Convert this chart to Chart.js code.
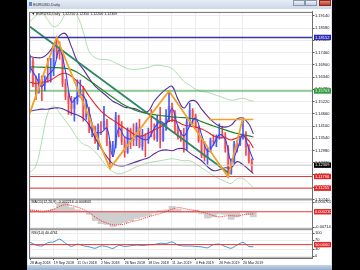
<!DOCTYPE html>
<html>
<head>
<meta charset="utf-8">
<title>EURUSD,Daily</title>
<script src="https://cdn.jsdelivr.net/npm/chart.js@4.4.1/dist/chart.umd.min.js"></script>
<style>
  html, body { margin:0; padding:0; width:360px; height:270px; overflow:hidden; background:#000; }
  #win { position:absolute; left:27px; top:0; width:305px; height:270px; background:#dde6f0; font-family:'Liberation Sans', Arial, sans-serif; }
  #head { position:absolute; left:0; top:0; width:305px; height:9px; background:linear-gradient(#e6edf6, #cbd8e8); }
  #head .ico { position:absolute; left:1.5px; top:2px; width:3px; height:4px; background:#5d86c2; }
  #head .ttl { position:absolute; left:6px; top:1.5px; font-size:8px; line-height:10px; color:#2b2b2b; white-space:nowrap; transform:scale(0.5); transform-origin:0 0; }
  #head .b { position:absolute; top:0; width:12px; height:6px; box-sizing:border-box; border:0.5px solid #8797ad; background:linear-gradient(#eef2f7, #c3cfdf); }
  #head .x { background:linear-gradient(#e08a7c, #c23b28); border-color:#8c2c20; }
  #cv { position:absolute; left:1px; top:9px; background:#fff; }
  #foot { position:absolute; left:0; top:265px; width:305px; height:5px; background:linear-gradient(#c6d5e6, #93b0d2); }
</style>
</head>
<body>
<div id="win">
  <div id="head">
    <div class="ico"></div><div class="ttl">EURUSD,Daily</div>
    <div class="b" style="left:266px"></div><div class="b" style="left:278px"></div><div class="b x" style="left:292px"></div>
  </div>
  <canvas id="cv" width="303" height="256"></canvas>
  <div id="foot"></div>
</div>
<script>
/* EURUSD Daily, MT4 style: price + MACD + RSI panes */
'use strict';

// time axis (bar 0 = 28 Aug 2018)
const dateTickBars = [0, 16, 32, 48, 64, 80, 96, 112, 128, 144];
const dateTicks = ['28 Aug 2018', '19 Sep 2018', '11 Oct 2018', '2 Nov 2018', '26 Nov 2018',
                   '18 Dec 2018', '11 Jan 2019', '4 Feb 2019', '26 Feb 2019', '20 Mar 2019'];

// price axis
const priceTicks = [1.19140, 1.18580, 1.18020, 1.17460, 1.16900, 1.16340, 1.15780, 1.15220,
                    1.14660, 1.14100, 1.13540, 1.12980, 1.12420, 1.11860, 1.11300, 1.10740];

// candles, one per two sessions
const cOpen = [1.1690,1.1707,1.1600,1.1584,1.1625,1.1596,1.1625,1.1624,1.1670,1.1778,
  1.1748,1.1738,1.1604,1.1545,1.1512,1.1489,1.1524,1.1559,1.1576,1.1452,
  1.1465,1.1388,1.1401,1.1343,1.1410,1.1407,1.1431,1.1335,1.1292,1.1324,
  1.1456,1.1408,1.1339,1.1290,1.1392,1.1350,1.1345,1.1405,1.1317,1.1366,
  1.1346,1.1380,1.1371,1.1354,1.1443,1.1345,1.1395,1.1444,1.1500,1.1470,
  1.1396,1.1364,1.1363,1.1305,1.1429,1.1480,1.1456,1.1406,1.1342,1.1274,
  1.1265,1.1294,1.1343,1.1337,1.1358,1.1371,1.1364,1.1307,1.1193,1.1246,
  1.1327,1.1325,1.1350,1.1375,1.1313,1.1249];
const cHigh = [1.1734,1.1720,1.1640,1.1650,1.1640,1.1640,1.1720,1.1720,1.1787,1.1815,
  1.1795,1.1755,1.1625,1.1565,1.1546,1.1540,1.1621,1.1620,1.1590,1.1530,
  1.1495,1.1420,1.1410,1.1420,1.1430,1.1500,1.1440,1.1340,1.1340,1.1472,
  1.1460,1.1430,1.1360,1.1402,1.1400,1.1420,1.1424,1.1440,1.1395,1.1375,
  1.1400,1.1485,1.1420,1.1460,1.1495,1.1410,1.1485,1.1570,1.1515,1.1480,
  1.1410,1.1390,1.1400,1.1440,1.1514,1.1490,1.1465,1.1410,1.1350,1.1340,
  1.1310,1.1355,1.1370,1.1370,1.1420,1.1410,1.1380,1.1320,1.1260,1.1340,
  1.1345,1.1362,1.1448,1.1385,1.1325,1.1260];
const cLow = [1.1655,1.1590,1.1530,1.1560,1.1526,1.1570,1.1610,1.1610,1.1640,1.1720,
  1.1715,1.1590,1.1530,1.1463,1.1460,1.1432,1.1510,1.1540,1.1432,1.1440,
  1.1380,1.1360,1.1330,1.1302,1.1370,1.1395,1.1320,1.1216,1.1270,1.1310,
  1.1360,1.1325,1.1267,1.1285,1.1306,1.1320,1.1320,1.1310,1.1300,1.1270,
  1.1330,1.1360,1.1345,1.1340,1.1310,1.1340,1.1390,1.1430,1.1430,1.1380,
  1.1350,1.1340,1.1290,1.1300,1.1410,1.1420,1.1395,1.1335,1.1265,1.1250,
  1.1234,1.1290,1.1320,1.1315,1.1350,1.1355,1.1290,1.1176,1.1190,1.1240,
  1.1290,1.1320,1.1350,1.1275,1.1240,1.1200];
const cClose = [1.1707,1.1600,1.1584,1.1625,1.1596,1.1625,1.1624,1.1670,1.1778,1.1748,
  1.1738,1.1604,1.1545,1.1512,1.1489,1.1524,1.1559,1.1576,1.1452,1.1465,
  1.1388,1.1401,1.1343,1.1410,1.1407,1.1431,1.1335,1.1292,1.1324,1.1456,
  1.1408,1.1339,1.1290,1.1392,1.1350,1.1345,1.1405,1.1317,1.1366,1.1346,
  1.1380,1.1371,1.1354,1.1443,1.1345,1.1395,1.1444,1.1500,1.1470,1.1396,
  1.1364,1.1363,1.1305,1.1429,1.1480,1.1456,1.1406,1.1342,1.1274,1.1265,
  1.1294,1.1343,1.1337,1.1358,1.1371,1.1364,1.1307,1.1193,1.1246,1.1327,
  1.1325,1.1350,1.1375,1.1313,1.1249,1.1231];

// indicator samples
const indBars = [0,4,8,12,16,20,24,28,32,36,40,44,48,52,56,60,64,68,72,76,
  80,84,88,92,96,100,104,108,112,116,120,124,128,132,136,140,144,148,151];
const blueMA = [1.1680,1.1635,1.1590,1.1640,1.1672,1.1760,1.1660,1.1520,1.1545,1.1550,
  1.1475,1.1385,1.1380,1.1400,1.1270,1.1400,1.1360,1.1350,1.1365,1.1350,
  1.1350,1.1400,1.1430,1.1420,1.1490,1.1410,1.1365,1.1410,1.1445,1.1370,
  1.1295,1.1325,1.1370,1.1350,1.1250,1.1300,1.1370,1.1305,1.1255];
const redMA = [1.1610,1.1605,1.1610,1.1614,1.1628,1.1646,1.1651,1.1637,1.1614,1.1587,
  1.1546,1.1510,1.1478,1.1455,1.1437,1.1419,1.1401,1.1383,1.1365,1.1365,
  1.1378,1.1392,1.1405,1.1424,1.1437,1.1428,1.1415,1.1410,1.1405,1.1396,
  1.1383,1.1365,1.1356,1.1356,1.1346,1.1356,1.1365,1.1342,1.1310];
const greenMA = [1.1680,1.1680,1.1679,1.1678,1.1677,1.1676,1.1674,1.1668,1.1655,1.1638,
  1.1618,1.1600,1.1580,1.1560,1.1540,1.1522,1.1505,1.1492,1.1480,1.1472,
  1.1466,1.1462,1.1458,1.1455,1.1452,1.1450,1.1448,1.1446,1.1440,1.1430,
  1.1420,1.1410,1.1401,1.1392,1.1383,1.1376,1.1370,1.1365,1.1360];
const bandUp = [1.1728,1.1723,1.1723,1.1741,1.1778,1.1823,1.1832,1.1773,1.1705,1.1669,
  1.1628,1.1592,1.1569,1.1546,1.1523,1.1510,1.1496,1.1492,1.1487,1.1474,
  1.1478,1.1523,1.1555,1.1578,1.1592,1.1533,1.1492,1.1523,1.1523,1.1487,
  1.1455,1.1428,1.1410,1.1405,1.1414,1.1442,1.1446,1.1419,1.1374];
const bandLo = [1.1478,1.1483,1.1487,1.1487,1.1492,1.1492,1.1483,1.1469,1.1460,1.1446,
  1.1414,1.1355,1.1310,1.1269,1.1237,1.1228,1.1228,1.1237,1.1247,1.1256,
  1.1265,1.1283,1.1297,1.1301,1.1297,1.1306,1.1306,1.1287,1.1269,1.1251,
  1.1224,1.1206,1.1210,1.1219,1.1219,1.1247,1.1233,1.1210,1.1192];
const wideUp = [1.1887,1.1914,1.1928,1.1896,1.1864,1.1878,1.1923,1.1941,1.1914,1.1841,
  1.1750,1.1723,1.1714,1.1714,1.1705,1.1691,1.1678,1.1669,1.1669,1.1673,
  1.1678,1.1687,1.1687,1.1682,1.1673,1.1646,1.1614,1.1596,1.1578,1.1569,
  1.1564,1.1555,1.1546,1.1537,1.1528,1.1532,1.1537,1.1528,1.1523];
const wideLo = [1.1197,1.1228,1.1342,1.1469,1.1501,1.1469,1.1433,1.1396,1.1355,1.1328,
  1.1315,1.1292,1.1260,1.1224,1.1201,1.1192,1.1197,1.1210,1.1224,1.1233,
  1.1242,1.1247,1.1251,1.1256,1.1260,1.1256,1.1251,1.1251,1.1237,1.1219,
  1.1201,1.1183,1.1169,1.1156,1.1147,1.1169,1.1169,1.1147,1.1128];

// drawn objects
const zzBars = [-9, 18, 54, 94, 134, 144];
const zzPrice = [1.1301, 1.1815, 1.1216, 1.1570, 1.1176, 1.1448];
const trendBars = [0, 135];
const trendPrice = [1.1864, 1.1192];
const flatBars = [121, 151];
const flatPrice = 1.1440;
const priceMarks = [1.18152, 1.15703, 1.12309, 1.11790, 1.11255];

// MACD(12,26,9)
const macdMain = [0.0012,0.0005,-0.0002,0.0008,0.0015,0.0042,0.0046,0.0022,0.0012,0.0006,
  -0.0010,-0.0040,-0.0055,-0.0058,-0.0068,-0.0058,-0.0050,-0.0040,-0.0030,-0.0024,
  -0.0018,-0.0005,0.0008,0.0012,0.0028,0.0015,0.0002,0.0004,0.0010,-0.0008,
  -0.0028,-0.0022,-0.0008,-0.0010,-0.0034,-0.0022,0.0002,-0.0010,-0.0022];
const macdSignal = [0.0010,0.0009,0.0005,0.0006,0.0014,0.0028,0.0036,0.0032,0.0024,0.0014,
  -0.0002,-0.0022,-0.0040,-0.0052,-0.0060,-0.0060,-0.0056,-0.0046,-0.0040,-0.0032,
  -0.0022,-0.0014,-0.0006,0.0004,0.0014,0.0022,0.0018,0.0012,0.0008,0.0002,
  -0.0006,-0.0016,-0.0022,-0.0018,-0.0016,-0.0018,-0.0012,-0.0009,-0.0008];
const macdTicks = [0.004702, -0.007144];
const macdLevel = 0.000230;

// RSI(14)
const rsi = [60,48,44,58,62,74,56,42,52,45,40,34,44,41,33,47,42,45,48,46,
  49,50,56,54,62,48,44,44,42,40,36,50,52,42,34,48,60,42,40.5];
const rsiTicks = [100, 70, 30, 0];
const rsiLevel = 50;

const paneLabels = ['\u25BC EURUSD,Daily  1.12250 1.12350 1.12200 1.12309',
                    'MACD(12,26,9) -0.002216 -0.000843',
                    'RSI(14) 40.4761'];

Chart.defaults.font.family = "'Liberation Sans', Arial, sans-serif";
Chart.defaults.color = '#111';

const X_MIN = -0.35, X_MAX = 191;
const up = i => cClose[i] >= cOpen[i];
const cBars = cOpen.map((_, i) => i * 2);
const pts = (xs, ys) => xs.map((x, i) => ({x, y: ys[i]}));

function curve(ys, color, w, order, axis) {
  return {type:'line', yAxisID: axis || 'y', data: pts(indBars, ys), borderColor: color,
    borderWidth: w, pointRadius: 0, tension: 0.4, order};
}
function level(v, color, w, order, axis, from, to) {
  return {type:'line', yAxisID: axis || 'y',
    data: [{x: from === undefined ? X_MIN : from, y: v}, {x: to === undefined ? X_MAX : to, y: v}],
    borderColor: color, borderWidth: w, pointRadius: 0, order};
}
function tickStyle(marks, colors) {
  const find = c => c.tick ? marks.findIndex(m => Math.abs(m - c.tick.value) < 1e-9) : -1;
  return {
    show: c => find(c) >= 0,
    back: c => { const k = find(c); return k >= 0 ? colors[k] : 'rgba(0,0,0,0)'; },
    text: c => find(c) >= 0 ? '#fff' : '#111',
    grid: c => find(c) >= 0 ? 'rgba(0,0,0,0)' : '#ededed',
    tick: c => find(c) >= 0 ? 'rgba(0,0,0,0)' : '#555'
  };
}
function paneAxis(weight, min, max, values, marks, colors, fmt) {
  const st = tickStyle(marks, colors);
  return {
    type:'linear', position:'right', stack:'pane', stackWeight: weight, min, max,
    afterBuildTicks: s => { s.ticks = values.concat(marks).map(v => ({value: v})); },
    afterFit: s => { s.width = 18.5; },
    ticks: {autoSkip:false, padding:0.5, font:{size:4}, callback: fmt, color: st.text,
      showLabelBackdrop: st.show, backdropColor: st.back,
      backdropPadding: {top:0.3, bottom:0.3, left:1, right:2}},
    grid: {color: st.grid, tickColor: st.tick, tickLength: 2, lineWidth: 1},
    border: {color:'#707070'}
  };
}

// separators, frame and pane captions
const panes = {
  id: 'panes',
  afterDraw(chart) {
    const {ctx, chartArea: a, scales: s} = chart;
    ctx.save();
    ctx.fillStyle = '#9b9b9b';
    [s.y.bottom, s.macd.bottom].forEach(y => ctx.fillRect(a.left, y - 1, a.right - a.left, 2));
    ctx.strokeStyle = '#6f6f6f'; ctx.lineWidth = 1;
    ctx.strokeRect(a.left, a.top + 0.5, a.right - a.left, a.bottom - a.top - 0.5);
    ctx.fillStyle = '#111';
    ctx.font = "3.6px 'Liberation Sans', Arial, sans-serif";
    ctx.textBaseline = 'middle';
    ctx.fillText(paneLabels[0], a.left + 2, s.y.top + 2.5);
    ctx.fillText(paneLabels[1], a.left + 2, s.macd.top + 3);
    ctx.fillText(paneLabels[2], a.left + 2, s.rsi.top + 3.5);
    ctx.restore();
  }
};

new Chart(document.getElementById('cv'), {
  type: 'bar',
  data: { datasets: [
    // price pane
    level(priceMarks[0], '#3636a8', 1.5, 2),
    level(priceMarks[1], '#35a043', 1, 2),
    level(priceMarks[2], '#c4c4c4', 1, 2),
    level(priceMarks[3], '#e43a3a', 1, 2),
    level(priceMarks[4], '#e43a3a', 1, 2),
    {type:'line', yAxisID:'y', data: pts(zzBars, zzPrice), borderColor:'#f4a128', borderWidth:1.8, pointRadius:0, order:1},
    level(flatPrice, '#f4a128', 1.6, 1, 'y', flatBars[0], flatBars[1]),
    {type:'line', yAxisID:'y', data: pts(trendBars, trendPrice), borderColor:'#2f8763', borderWidth:1.8, pointRadius:0, order:3},
    curve(blueMA, '#2a46ff', 1.1, 4),
    curve(redMA, '#e52222', 1.1, 5),
    curve(greenMA, '#23802a', 1.2, 6),
    curve(bandUp, '#56309a', 1.1, 7),
    curve(bandLo, '#56309a', 1.1, 7),
    curve(wideUp, '#a6d8a6', 0.9, 9),
    curve(wideLo, '#a6d8a6', 0.9, 9),
    {type:'bar', yAxisID:'y', data: cBars.map((x, i) => ({x, y:[cLow[i], cHigh[i]]})),
      backgroundColor: cBars.map((_, i) => up(i) ? '#4a5cf2' : '#f04a4a'),
      barThickness: 1, grouped: false, order: 20},
    {type:'bar', yAxisID:'y', data: cBars.map((x, i) => ({x, y:[cOpen[i], cClose[i]]})),
      backgroundColor: cBars.map((_, i) => up(i) ? '#cdc6f5' : '#f6c3cd'),
      barThickness: 2.4, grouped: false, order: 21},
    // MACD pane
    {type:'bar', yAxisID:'macd', data: pts(indBars, macdMain), backgroundColor:'#cfcfcf',
      barThickness: 6, grouped: false, order: 32},
    {type:'line', yAxisID:'macd', data: pts(indBars, macdSignal), borderColor:'#ff2a2a', borderWidth:1,
      borderDash:[1, 1], pointRadius:0, tension:0.4, order: 31},
    level(macdLevel, '#ee3333', 1, 30, 'macd'),
    // RSI pane
    {type:'line', yAxisID:'rsi', data: pts(indBars, rsi), borderColor:'#3b8fd8', borderWidth:1,
      pointRadius:0, tension:0.25, order: 41},
    level(rsiLevel, '#ee3333', 1, 40, 'rsi')
  ]},
  options: {
    responsive: false, animation: false,
    layout: {padding: {left: 1.5, top: 1, right: 0, bottom: 0}},
    plugins: {legend: {display: false}, tooltip: {enabled: false}},
    scales: {
      x: {type:'linear', position:'bottom', min: X_MIN, max: X_MAX, offset: false,
        afterBuildTicks: s => { s.ticks = dateTickBars.map(v => ({value: v})); },
        afterFit: s => { s.height = 7; },
        ticks: {autoSkip:false, maxRotation:0, align:'start', padding:0.5, font:{size:3.6},
          callback: (v, i) => dateTicks[i]},
        grid: {offset:false, color:'#ededed', tickColor:'#555', tickLength:2},
        border: {color:'#707070'}},
      y: paneAxis(189, 1.1074, 1.1932, priceTicks, priceMarks,
        ['#2b2bb3', '#2f9a3a', '#000000', '#e32626', '#e32626'], v => v.toFixed(5)),
      macd: paneAxis(30, -0.0081, 0.0061, macdTicks, [macdLevel], ['#e32626'], v => v.toFixed(6)),
      rsi: paneAxis(29, -8.7, 117.4, rsiTicks, [rsiLevel], ['#e32626'],
        v => v === rsiLevel ? v.toFixed(4) : String(v))
    }
  },
  plugins: [panes]
});
</script>
</body>
</html>
